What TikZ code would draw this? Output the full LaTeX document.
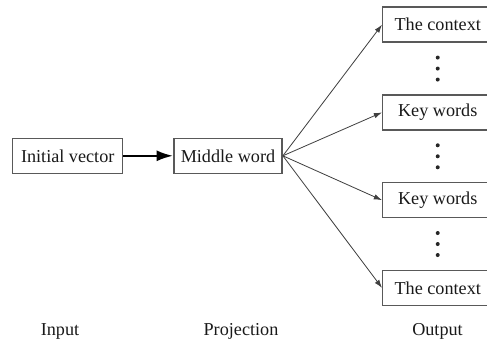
\documentclass[tikz,border=0pt]{standalone}
\usepackage{fontspec}
\setmainfont{Liberation Serif}
\usepackage{tikz}
\usetikzlibrary{arrows.meta, positioning, calc}

\begin{document}
\begin{tikzpicture}[
    x=0.55pt, y=-0.55pt,
    wordbox/.style={rectangle, draw=black!65, line width=0.8pt, text=black!90, minimum height=19.25pt, inner xsep=2pt, font=\fontsize{10}{12}\selectfont},
    outbox/.style={wordbox, minimum width=60.5pt, anchor=west},
    stage/.style={text=black!90, font=\fontsize{10}{12}\selectfont},
    thickarrow/.style={-{Latex[length=9pt, width=6pt]}, line width=1.2pt},
    fanarrow/.style={-{Latex[length=4.5pt, width=3pt]}, line width=0.45pt, draw=black!75}
]
\useasboundingbox (0,0) rectangle (487,346);

% Input and projection
\node[wordbox, minimum width=60.5pt] (init) at (67.7,155.8) {Initial vector};
\node[wordbox, minimum width=59.6pt, right=27.3pt of init] (middle) {Middle word};

% Output column
\node[outbox] (ctxtop) at (382,24.7) {The context};
\node[outbox, below=28.2pt of ctxtop.south west, anchor=north west] (keya) {Key words};
\node[outbox, below=28.2pt of keya.south west, anchor=north west] (keyb) {Key words};
\node[outbox, below=28.2pt of keyb.south west, anchor=north west] (ctxbot) {The context};

% Dots between outputs
\foreach \up/\down in {ctxtop/keya, keya/keyb, keyb/ctxbot}
  \foreach \d in {-11,0,11}
    \fill[black!85] ($(\up.south)!0.5!(\down.north)$) ++(0,\d) circle (1.1pt);

% Arrows
\draw[thickarrow] (init) -- (middle);
\foreach \t in {ctxtop, keya, keyb, ctxbot}
  \draw[fanarrow] (middle.east) -- (\t.west);

% Stage labels
\node[stage] (inputlbl) at (60,331.7) {Input};
\node[stage] (projlbl) at (241,331.7) {Projection};
\node[stage] (outlbl) at (437.5,331.7) {Output};

\end{tikzpicture}
\end{document}
